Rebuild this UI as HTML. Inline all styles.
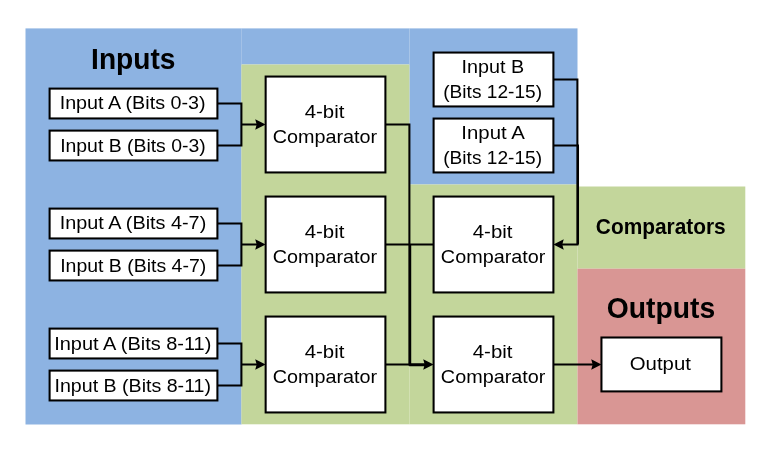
<!DOCTYPE html>
<html><head><meta charset="utf-8">
<style>
html,body{margin:0;padding:0;background:#fff;width:771px;height:449px;overflow:hidden;}
svg{position:absolute;left:0;top:0;will-change:transform;}
text{font-family:"Liberation Sans",sans-serif;fill:#000;text-anchor:middle;}
</style></head><body>
<svg width="771" height="449" viewBox="0 0 771 449">
  <rect x="25.5" y="28.4" width="216" height="396.1" fill="#8DB3E2"/>
  <rect x="241.4" y="28.4" width="168" height="36.1" fill="#8DB3E2"/>
  <rect x="409.4" y="28.4" width="168.1" height="156.1" fill="#8DB3E2"/>
  <rect x="241.4" y="64.5" width="168" height="359.8" fill="#C3D69B"/>
  <rect x="409.4" y="184.5" width="168.1" height="239.8" fill="#C3D69B"/>
  <rect x="577.5" y="186.5" width="167.8" height="82.2" fill="#C3D69B"/>
  <rect x="577.5" y="268.7" width="167.8" height="155.6" fill="#D99694"/>

  <g fill="#fff" stroke="#000" stroke-width="2.05">
    <rect x="49.6" y="88.6" width="167.8" height="29.85"/>
    <rect x="49.6" y="130.6" width="167.8" height="29.85"/>
    <rect x="49.6" y="208.6" width="167.8" height="29.85"/>
    <rect x="49.6" y="250.6" width="167.8" height="29.85"/>
    <rect x="49.6" y="328.6" width="167.8" height="29.85"/>
    <rect x="49.6" y="370.6" width="167.8" height="29.85"/>
    <rect x="265.65" y="76.55" width="119.75" height="95.9"/>
    <rect x="265.65" y="196.55" width="119.75" height="95.9"/>
    <rect x="265.65" y="316.55" width="119.75" height="95.9"/>
    <rect x="433.6" y="52.55" width="119.8" height="53.9"/>
    <rect x="433.6" y="118.55" width="119.8" height="53.9"/>
    <rect x="433.6" y="196.55" width="119.8" height="95.9"/>
    <rect x="433.6" y="316.55" width="119.8" height="95.9"/>
    <rect x="601.45" y="337.5" width="119.95" height="53.9"/>
  </g>
  <g fill="none" stroke="#000" stroke-width="2.05">
    <path d="M217.4 103.5H241.4V145.5H217.4M241.4 124.5H258"/>
    <path d="M217.4 223.5H241.4V265.5H217.4M241.4 244.5H258"/>
    <path d="M217.4 343.5H241.4V385.5H217.4M241.4 364.5H258"/>
    <path d="M385.4 124.45H409.4V364.4H426"/>
    <path d="M385.4 244.45H433.6M410.2 244.45V365.1H426"/>
    <path d="M385.4 364.45H426"/>
    <path d="M553.4 79.45H577.4V244.55H562M553.4 145.5H578V244.55"/>
    <path d="M553.4 364.5H594"/>
  </g>
  <g fill="#000">
    <path d="M255.2 119.35L265.65 124.5L255.2 129.65L256.7 124.5Z"/>
    <path d="M255.2 239.35L265.65 244.5L255.2 249.65L256.7 244.5Z"/>
    <path d="M255.2 359.35L265.65 364.5L255.2 369.65L256.7 364.5Z"/>
    <path d="M423.2 359.35L433.6 364.6L423.2 369.75L424.7 364.6Z"/>
    <path d="M563.75 239.3L553.4 244.55L563.75 249.75L562.25 244.55Z"/>
    <path d="M591.2 359.35L601.45 364.5L591.2 369.65L592.7 364.5Z"/>
  </g>
  <g>
  <text transform="translate(133.24 69.40) scale(0.9696 1)" font-size="29" font-weight="bold">Inputs</text>
<text transform="translate(132.64 109.40) scale(1.0288 1)" font-size="19.2">Input A (Bits 0-3)</text>
<text transform="translate(132.90 151.70) scale(1.0106 1)" font-size="19.2">Input B (Bits 0-3)</text>
<text transform="translate(132.94 229.40) scale(1.0331 1)" font-size="19.2">Input A (Bits 4-7)</text>
<text transform="translate(133.20 271.70) scale(1.0149 1)" font-size="19.2">Input B (Bits 4-7)</text>
<text transform="translate(132.74 349.70) scale(1.0405 1)" font-size="19.2">Input A (Bits 8-11)</text>
<text transform="translate(132.77 391.50) scale(1.0216 1)" font-size="19.2">Input B (Bits 8-11)</text>
<text transform="translate(324.52 117.70) scale(1.0639 1)" font-size="19.2">4-bit</text>
<text transform="translate(324.99 143.40) scale(1.0310 1)" font-size="19.2">Comparator</text>
<text transform="translate(324.52 237.70) scale(1.0639 1)" font-size="19.2">4-bit</text>
<text transform="translate(324.99 263.40) scale(1.0310 1)" font-size="19.2">Comparator</text>
<text transform="translate(324.52 357.70) scale(1.0639 1)" font-size="19.2">4-bit</text>
<text transform="translate(324.99 383.40) scale(1.0310 1)" font-size="19.2">Comparator</text>
<text transform="translate(492.62 237.70) scale(1.0639 1)" font-size="19.2">4-bit</text>
<text transform="translate(493.09 263.40) scale(1.0310 1)" font-size="19.2">Comparator</text>
<text transform="translate(492.62 357.70) scale(1.0639 1)" font-size="19.2">4-bit</text>
<text transform="translate(493.09 383.40) scale(1.0310 1)" font-size="19.2">Comparator</text>
<text transform="translate(492.84 72.80) scale(1.0293 1)" font-size="19.2">Input B</text>
<text transform="translate(492.60 98.00) scale(0.9959 1)" font-size="19.2">(Bits 12-15)</text>
<text transform="translate(493.07 138.70) scale(1.0615 1)" font-size="19.2">Input A</text>
<text transform="translate(492.60 163.50) scale(0.9959 1)" font-size="19.2">(Bits 12-15)</text>
<text transform="translate(660.75 234.00) scale(0.9575 1)" font-size="21.8" font-weight="bold">Comparators</text>
<text transform="translate(660.97 318.00) scale(0.9756 1)" font-size="29" font-weight="bold">Outputs</text>
<text transform="translate(660.30 370.40) scale(1.0608 1)" font-size="19.2">Output</text>
  </g>
</svg>
</body></html>
